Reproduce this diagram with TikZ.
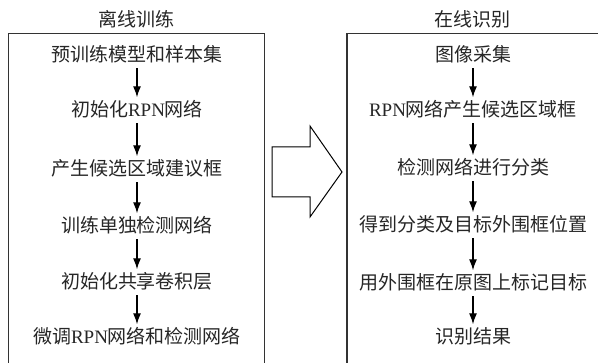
\documentclass[tikz,border=0pt]{standalone}
\usepackage{fontspec}
\setmainfont{Noto Sans CJK SC}
\newfontfamily\lat{Liberation Serif}
\usetikzlibrary{arrows.meta}
\tikzset{
  lbl/.style={inner sep=0pt, text height=16.5pt, text depth=2.5pt, font=\fontsize{19pt}{20pt}\selectfont, text=black!85},
  flow/.style={-{Latex[length=11pt,width=8pt]}, line width=1.3pt, shorten <=3.5pt, shorten >=3pt},
  frame/.style={line width=1.2pt, draw=black!80},
  bigarrow/.style={line width=1pt, draw=black, fill=white}
}
\begin{document}
\begin{tikzpicture}[x=1pt,y=-1pt]
\useasboundingbox (0,0) rectangle (598,363);
\begin{scope}
\clip (0,0) rectangle (598,363);
\draw[frame] (8.5,380) -- (8.5,33.5) -- (264.5,33.5) -- (264.5,380);
\draw[frame] (347,380) -- (347,33.5) -- (610,33.5);
\end{scope}
% titles
\node[lbl] (t1) at (136,20) {离线训练};
\node[lbl] (t2) at (472,20) {在线识别};
% left column
\node[lbl] (a1) at (137,55) {预训练模型和样本集};
\node[lbl] (a2) at (137,110) {初始化{\lat RPN}网络};
\node[lbl] (a3) at (137,169) {产生候选区域建议框};
\node[lbl] (a4) at (137,226) {训练单独检测网络};
\node[lbl] (a5) at (137,282) {初始化共享卷积层};
\node[lbl] (a6) at (137,337) {微调{\lat RPN}网络和检测网络};
% right column
\node[lbl] (b1) at (473,55) {图像采集};
\node[lbl] (b2) at (473,110) {{\lat RPN}网络产生候选区域框};
\node[lbl] (b3) at (473,168) {检测网络进行分类};
\node[lbl] (b4) at (473,225) {得到分类及目标外围框位置};
\node[lbl] (b5) at (473,283) {用外围框在原图上标记目标};
\node[lbl] (b6) at (473,337) {识别结果};
\foreach \i/\j in {1/2,2/3,3/4,4/5,5/6}{
  \draw[flow] (a\i.south) -- (a\j.north);
  \draw[flow] (b\i.south) -- (b\j.north);
}
% big hollow arrow
\draw[bigarrow] (272,147) -- (310,147) -- (310,126) -- (342,172) -- (310,217) -- (310,197) -- (272,197) -- cycle;
\end{tikzpicture}
\end{document}
